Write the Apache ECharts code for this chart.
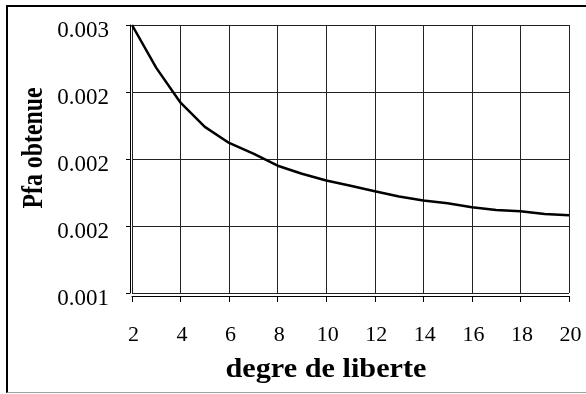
<!DOCTYPE html>
<html>
<head>
<meta charset="utf-8">
<script src="https://cdn.jsdelivr.net/npm/echarts@6/dist/echarts.min.js"></script>
<style>
  html, body { margin: 0; padding: 0; background: #fff; overflow: hidden; }
  #frame {
    position: absolute; left: 6px; top: 5px; width: 640px; height: 385px;
    border-left: 2px solid #000; border-top: 2px solid #000; border-bottom: 1px solid #a0a0a0;
  }
  #chart { position: absolute; left: 0; top: 0; width: 586px; height: 394px; }
</style>
</head>
<body>
<div id="frame"></div>
<div id="chart"></div>
<script>
// degrees of freedom and the obtained false-alarm probability
const degrees = [2, 3, 4, 5, 6, 7, 8, 9, 10, 11, 12, 13, 14, 15, 16, 17, 18, 19, 20];
const pfaValues = [0.00300, 0.00268, 0.00242, 0.00224, 0.00212, 0.00204, 0.00195, 0.00189, 0.00184,
                   0.00180, 0.00176, 0.00172, 0.00169, 0.00167, 0.00164, 0.00162, 0.00161, 0.00159, 0.00158];
// y tick labels as printed (three decimals)
const yTickLabels = ['0.001', '0.002', '0.002', '0.002', '0.003'];
const xTitle = 'degre de liberte';
const yTitle = 'Pfa obtenue';

const serif = '"Liberation Serif", "Times New Roman", serif';
const chart = echarts.init(document.getElementById('chart'), null, { renderer: 'canvas' });

chart.setOption({
  animation: false,
  grid: { left: 132, right: 17, top: 25, bottom: 101, containLabel: false },
  xAxis: {
    type: 'value', min: 2, max: 20, interval: 2, offset: 3,
    axisLine: { show: true, lineStyle: { color: '#000', width: 1 } },
    axisTick: { show: true, length: 6, lineStyle: { color: '#000' } },
    axisLabel: { fontFamily: serif, fontSize: 22, color: '#000', margin: 28, padding: [0, 0, 0, 3] },
    splitLine: { show: true, lineStyle: { color: '#222', width: 1 } }
  },
  yAxis: {
    type: 'value', min: 0.001, max: 0.003, interval: 0.0005, offset: 2,
    axisLine: { show: true, lineStyle: { color: '#000', width: 1 } },
    axisTick: { show: true, length: 4, lineStyle: { color: '#000' } },
    axisLabel: {
      color: '#000', margin: 21,
      formatter: v => '{v|' + yTickLabels[Math.round((v - 0.001) / 0.0005)] + '}',
      rich: { v: { fontFamily: serif, fontSize: 23, color: '#000', padding: [11, 0, 0, 0] } }
    },
    splitLine: { show: true, lineStyle: { color: '#222', width: 1 } }
  },
  // axis titles, drawn as text elements so their glyph proportions can be set
  graphic: [
    {
      type: 'text', x: 326, y: 370, scaleX: 1.08, scaleY: 1, silent: true,
      style: {
        text: xTitle, fontFamily: serif, fontWeight: 'bold', fontSize: 28, fill: '#000',
        textAlign: 'center', textVerticalAlign: 'middle'
      }
    },
    {
      type: 'text', x: 35, y: 148, rotation: Math.PI / 2, scaleX: 0.82, scaleY: 1, silent: true,
      style: {
        text: yTitle, fontFamily: serif, fontWeight: 'bold', fontSize: 29, fill: '#000',
        textAlign: 'center', textVerticalAlign: 'middle'
      }
    }
  ],
  series: [{
    type: 'line',
    data: degrees.map((d, i) => [d, pfaValues[i]]),
    showSymbol: false,
    smooth: false,
    lineStyle: { color: '#000', width: 2.5 },
    clip: false
  }]
});
</script>
</body>
</html>
